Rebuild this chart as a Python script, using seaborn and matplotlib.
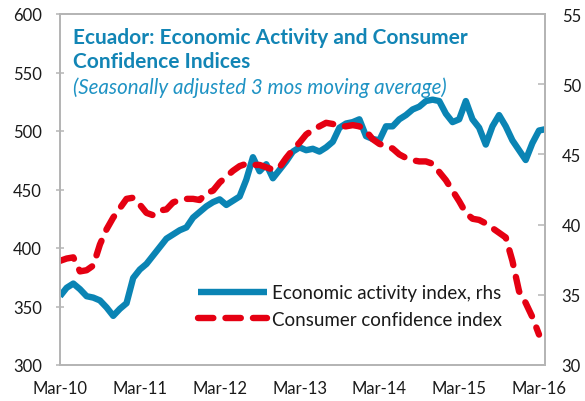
import matplotlib
matplotlib.use("Agg")
import matplotlib.pyplot as plt
import seaborn as sns
import pandas as pd

# ---- data (monthly, Mar-10 onwards) ----
tick_labels = ["Mar-10", "Mar-11", "Mar-12", "Mar-13", "Mar-14", "Mar-15", "Mar-16"]
tick_positions = [0, 12, 24, 36, 48, 60, 72]

activity_rhs = [34.9, 35.5, 35.8, 35.4, 34.9, 34.8, 34.6, 34.1, 33.5, 34.0,
                34.4, 36.2, 36.8, 37.2, 37.8, 38.4, 39.0, 39.3, 39.6, 39.8,
                40.5, 40.9, 41.3, 41.6, 41.8, 41.4, 41.7, 42.0, 43.2, 44.8,
                43.8, 44.3, 43.3, 43.9, 44.5, 45.2, 45.5, 45.3, 45.4, 45.2,
                45.5, 45.9, 46.9, 47.2, 47.3, 47.5, 46.3, 46.1, 46.0, 47.0,
                47.0, 47.5, 47.8, 48.2, 48.4, 48.8, 48.9, 48.8, 47.9, 47.3,
                47.5, 48.8, 47.5, 46.9, 45.7, 47.0, 47.8, 47.0, 46.0, 45.3,
                44.6, 45.8, 46.7, 46.8]

confidence_lhs = [389, 391, 392, 380, 381, 385, 403, 416, 426, 434,
                  442, 443, 437, 430, 428, 432, 433, 439, 441, 442,
                  442, 441, 447, 449, 456, 461, 466, 470, 472, 471,
                  471, 469, 467, 469, 477, 484, 490, 497, 501, 504,
                  507, 506, 504, 504, 505, 504, 500, 493, 489, 487,
                  485, 480, 477, 475, 474, 474, 472, 465, 458, 449,
                  440, 430, 425, 424, 421, 417, 413, 409, 389, 363,
                  353, 341, 326]

series_labels = ["Economic activity index, rhs", "Consumer confidence index"]

df_act = pd.DataFrame({"month": range(len(activity_rhs)), "value": activity_rhs})
df_conf = pd.DataFrame({"month": range(len(confidence_lhs)), "value": confidence_lhs})

# ---- style ----
sns.set_theme(style="white")
plt.rcParams["font.family"] = ["Lato", "DejaVu Sans"]

BLUE = "#0A84B4"
RED = "#E50012"
TITLE = "#1285B5"
GRID_GREY = "#B5B5B5"

fig = plt.figure(figsize=(5.85, 4.02), dpi=100)
ax = fig.add_axes([60 / 585, 1 - 366 / 402, (545 - 60) / 585, (366 - 15) / 402])
ax2 = ax.twinx()

sns.lineplot(data=df_conf, x="month", y="value", ax=ax, color=RED, linewidth=4.6,
             linestyle=(0, (2.4, 1.9)), dash_capstyle="round", label=series_labels[1],
             legend=False)
sns.lineplot(data=df_act, x="month", y="value", ax=ax2, color=BLUE, linewidth=4.6,
             solid_capstyle="butt", label=series_labels[0], legend=False)

# red on top of blue
ax.set_zorder(ax2.get_zorder() + 1)
ax.patch.set_visible(False)

ax.set_xlim(0, 72.9)
ax.set_ylim(300, 600)
ax2.set_ylim(30, 55)
ax.set_yticks(range(300, 601, 50))
ax2.set_yticks(range(30, 56, 5))
ax.set_xticks(tick_positions)
ax.set_xticklabels(tick_labels)
ax.set_xlabel("")
ax.set_ylabel("")
ax2.set_ylabel("")

for a in (ax, ax2):
    for s in a.spines.values():
        s.set_color(GRID_GREY)
        s.set_linewidth(1.3)
    a.tick_params(labelsize=12, colors="#1a1a1a")

ax.tick_params(axis="y", direction="inout", length=6, width=1.1, color=GRID_GREY, pad=10)
ax.tick_params(axis="x", direction="out", length=5, width=1.1, color=GRID_GREY, pad=6)
ax2.tick_params(axis="y", direction="in", length=5, width=1.1, color=GRID_GREY, pad=12)

# legend
h1, l1 = ax2.get_legend_handles_labels()
h2, l2 = ax.get_legend_handles_labels()
leg = ax.legend(h1 + h2, l1 + l2, loc="center left",
                bbox_to_anchor=(198 / 585, 1 - 307 / 402), bbox_transform=fig.transFigure,
                frameon=False, fontsize=13.5, handlelength=3.68, handletextpad=0.27,
                labelspacing=0.52, borderpad=0, borderaxespad=0)
for t in leg.get_texts():
    t.set_color("#1a1a1a")

# titles
fig.text(73 / 585, 1 - 43.5 / 402, "Ecuador: Economic Activity and Consumer",
         color=TITLE, fontsize=15, fontweight="bold", va="baseline", ha="left")
fig.text(73 / 585, 1 - 68.5 / 402, "Confidence Indices",
         color=TITLE, fontsize=15, fontweight="bold", va="baseline", ha="left")
fig.text(73 / 585, 1 - 94 / 402, "(Seasonally adjusted 3 mos moving average)",
         color="#1F93C4", fontsize=14.8, fontstyle="italic", va="baseline", ha="left")

fig.savefig("out.png", dpi=100)
